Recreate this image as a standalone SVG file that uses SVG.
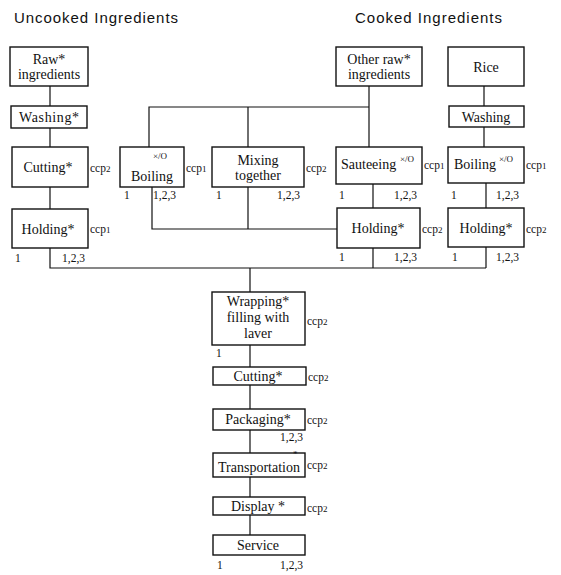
<svg xmlns="http://www.w3.org/2000/svg" width="561" height="575" viewBox="0 0 561 575">
<style>
.b{fill:#fff;stroke:#111;stroke-width:1.4}
.t{font-family:"Liberation Serif","Times New Roman",serif;font-size:14px;fill:#111;text-anchor:middle}
.ts{font-family:"Liberation Serif","Times New Roman",serif;font-size:14px;fill:#111}
.c{font-family:"Liberation Serif","Times New Roman",serif;font-size:11.5px;fill:#111}
.n{font-family:"Liberation Serif","Times New Roman",serif;font-size:11.5px;fill:#111}
.s{font-family:"Liberation Serif","Times New Roman",serif;font-size:9px;fill:#111}
.h{font-family:"Liberation Sans",Arial,sans-serif;font-size:15px;fill:#111}
.l{fill:none;stroke:#111;stroke-width:1.2}
</style>
<rect width="561" height="575" fill="#fff"/>
<text class="h" x="14" y="23" textLength="164">Uncooked Ingredients</text>
<text class="h" x="355" y="23" textLength="147">Cooked Ingredients</text>
<g id="connectors" class="l">
<path d="M50 86V106M50 128V147M50 187V209M50 248V268H486"/>
<path d="M149 147V107H369M248 107V147M369 86V147"/>
<path d="M484 86V106M484 127V147"/>
<path d="M152 187V229H337M248 187V229"/>
<path d="M373 184V208M486 183V208M373 248V268M486 247V268"/>
<path d="M250 268V292M250 345V367M250 385V409M250 430V453M250 477V497M250 515V535"/>
</g>
<g id="raw"><rect class="b" x="10" y="47" width="78" height="39"/><text class="t" x="49" y="64">Raw*</text><text class="t" x="49" y="79">ingredients</text></g>
<g id="washing1"><rect class="b" x="11" y="106" width="76" height="22"/><text class="t" x="49" y="122" textLength="60">Washing*</text></g>
<g id="cutting1"><rect class="b" x="12" y="147" width="76" height="40"/><text class="t" x="48" y="172">Cutting*</text><text class="c" x="90" y="172">ccp<tspan font-size="9">2</tspan></text></g>
<g id="holding1"><rect class="b" x="12" y="209" width="76" height="39"/><text class="t" x="48" y="234">Holding*</text><text class="c" x="90" y="233">ccp<tspan font-size="9">1</tspan></text><text class="n" x="15" y="262">1</text><text class="n" x="62" y="262">1,2,3</text></g>
<g id="boiling1"><rect class="b" x="120" y="147" width="64" height="40"/><text class="s" x="160" y="159" text-anchor="middle">×/O</text><text class="t" x="152" y="181">Boiling</text><text class="c" x="186" y="172">ccp<tspan font-size="9">1</tspan></text><text class="n" x="124" y="199">1</text><text class="n" x="153" y="199">1,2,3</text></g>
<g id="mixing"><rect class="b" x="212" y="147" width="92" height="40"/><text class="t" x="258" y="165">Mixing</text><text class="t" x="258" y="180">together</text><text class="c" x="306" y="172">ccp<tspan font-size="9">2</tspan></text><text class="n" x="216" y="199">1</text><text class="n" x="277" y="199">1,2,3</text></g>
<g id="otherraw"><rect class="b" x="336" y="47" width="86" height="39"/><text class="t" x="379" y="64">Other raw*</text><text class="t" x="379" y="79">ingredients</text></g>
<g id="rice"><rect class="b" x="448" y="47" width="76" height="39"/><text class="t" x="486" y="72">Rice</text></g>
<g id="washing2"><rect class="b" x="449" y="106" width="75" height="21"/><text class="t" x="486" y="122">Washing</text></g>
<g id="sauteeing"><rect class="b" x="336" y="147" width="86" height="37"/><text class="ts" x="341" y="169">Sauteeing</text><text class="s" x="400" y="162">×/O</text><text class="c" x="424" y="169">ccp<tspan font-size="9">1</tspan></text><text class="n" x="339" y="199">1</text><text class="n" x="394" y="199">1,2,3</text></g>
<g id="boiling2"><rect class="b" x="448" y="147" width="76" height="36"/><text class="ts" x="454" y="169">Boiling</text><text class="s" x="499" y="162">×/O</text><text class="c" x="526" y="169">ccp<tspan font-size="9">1</tspan></text><text class="n" x="451" y="199">1</text><text class="n" x="496" y="199">1,2,3</text></g>
<g id="holding2"><rect class="b" x="337" y="208" width="83" height="40"/><text class="t" x="378" y="233">Holding*</text><text class="c" x="422" y="233">ccp<tspan font-size="9">2</tspan></text><text class="n" x="339" y="261">1</text><text class="n" x="394" y="261">1,2,3</text></g>
<g id="holding3"><rect class="b" x="448" y="208" width="76" height="39"/><text class="t" x="486" y="233">Holding*</text><text class="c" x="526" y="233">ccp<tspan font-size="9">2</tspan></text><text class="n" x="452" y="261">1</text><text class="n" x="496" y="261">1,2,3</text></g>
<g id="wrapping"><rect class="b" x="212" y="292" width="93" height="53"/><text class="t" x="258" y="306">Wrapping*</text><text class="t" x="258" y="322">filling with</text><text class="t" x="258" y="338">laver</text><text class="c" x="307" y="325">ccp<tspan font-size="9">2</tspan></text><text class="n" x="216" y="357">1</text></g>
<g id="cutting2"><rect class="b" x="213" y="367" width="93" height="18"/><text class="t" x="258" y="381">Cutting*</text><text class="c" x="308" y="381">ccp<tspan font-size="9">2</tspan></text></g>
<g id="packaging"><rect class="b" x="213" y="409" width="92" height="21"/><text class="t" x="258" y="424">Packaging*</text><text class="c" x="307" y="424">ccp<tspan font-size="9">2</tspan></text><text class="n" x="280" y="441">1,2,3</text></g>
<g id="transportation"><rect class="b" x="213" y="453" width="92" height="24"/><text class="t" x="259" y="472">Transportation</text><text class="s" x="293" y="457" font-size="6">*</text><text class="c" x="307" y="469">ccp<tspan font-size="9">2</tspan></text></g>
<g id="display"><rect class="b" x="213" y="497" width="92" height="18"/><text class="t" x="258" y="511">Display *</text><text class="c" x="307" y="512">ccp<tspan font-size="9">2</tspan></text></g>
<g id="service"><rect class="b" x="213" y="535" width="92" height="20"/><text class="t" x="258" y="550">Service</text><text class="n" x="217" y="569">1</text><text class="n" x="280" y="569">1,2,3</text></g>
</svg>
